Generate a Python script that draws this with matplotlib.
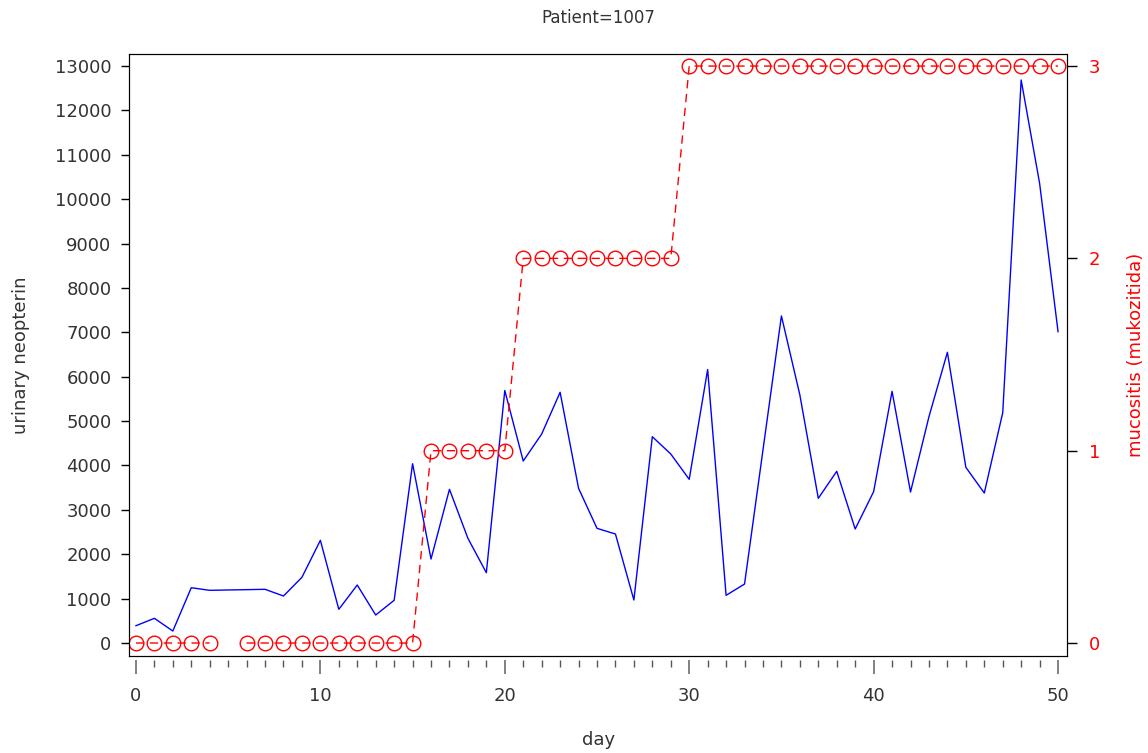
import numpy as np
import matplotlib.pyplot as plt
from matplotlib.ticker import MultipleLocator

day = np.arange(0, 51)
neopterin = [390, 556, 270, 1246, 1187, 1195, 1202, 1210, 1059, 1480,
             2314, 759, 1307, 631, 962, 4040, 1893, 3463, 2359, 1584,
             5690, 4101, 4709, 5649, 3486, 2584, 2456, 969, 4649, 4259,
             3688, 6162, 1074, 1329, 4350, 7370, 5588, 3260, 3869, 2569,
             3410, 5671, 3402, 5100, 6550, 3959, 3380, 5189, 12686, 10358,
             7015]
mucositis = [0, 0, 0, 0, 0, np.nan, 0, 0, 0, 0,
             0, 0, 0, 0, 0, 0, 1, 1, 1, 1,
             1, 2, 2, 2, 2, 2, 2, 2, 2, 2,
             3, 3, 3, 3, 3, 3, 3, 3, 3, 3,
             3, 3, 3, 3, 3, 3, 3, 3, 3, 3,
             3]

txt = '#333333'
fs = 13

fig = plt.figure(figsize=(11.48, 7.53), dpi=100)
ax = fig.add_axes([0.1128, 0.1288, 0.8164, 0.7995])

ax.plot(day, neopterin, color='blue', lw=1)
ax.set_xlim(-0.35, 50.47)
ax.set_ylim(-293, 13272)
ax.set_yticks(np.arange(0, 13001, 1000))
ax.tick_params(axis='y', direction='out', length=6, width=1, pad=7,
               labelsize=fs, labelcolor=txt)
ax.set_ylabel('urinary neopterin', fontsize=fs, color=txt, labelpad=18)

# x ticks sit a little below the frame, like R's axis()
ax.set_xticks([])
sec = ax.secondary_xaxis(-0.007)
sec.spines['bottom'].set_visible(False)
sec.set_xticks(np.arange(0, 51, 10))
sec.xaxis.set_minor_locator(MultipleLocator(1))
sec.tick_params(which='major', length=10, width=1.3, color='#777777',
                pad=9, labelsize=fs, labelcolor=txt)
sec.tick_params(which='minor', length=5, width=1, color='#555555')
sec.set_xlabel('day', fontsize=fs, color=txt, labelpad=19)

ax2 = ax.twinx()
ax2.plot(day, mucositis, color='red', lw=1, ls=(0, (6, 4)),
         marker='o', ms=10.5, mfc='none', mec='red', mew=1)
ax2.set_ylim(-293 * 3 / 13000, 13272 * 3 / 13000)
ax2.set_yticks([0, 1, 2, 3])
ax2.tick_params(axis='y', direction='out', length=7, width=1, pad=9,
                labelsize=fs, labelcolor='red')
ax2.set_ylabel('mucositis (mukozitida)', fontsize=fs, color='red', labelpad=19)

ax.set_title('Patient=1007', fontsize=12, color=txt, pad=22)

fig.savefig('out.png', dpi=100)
